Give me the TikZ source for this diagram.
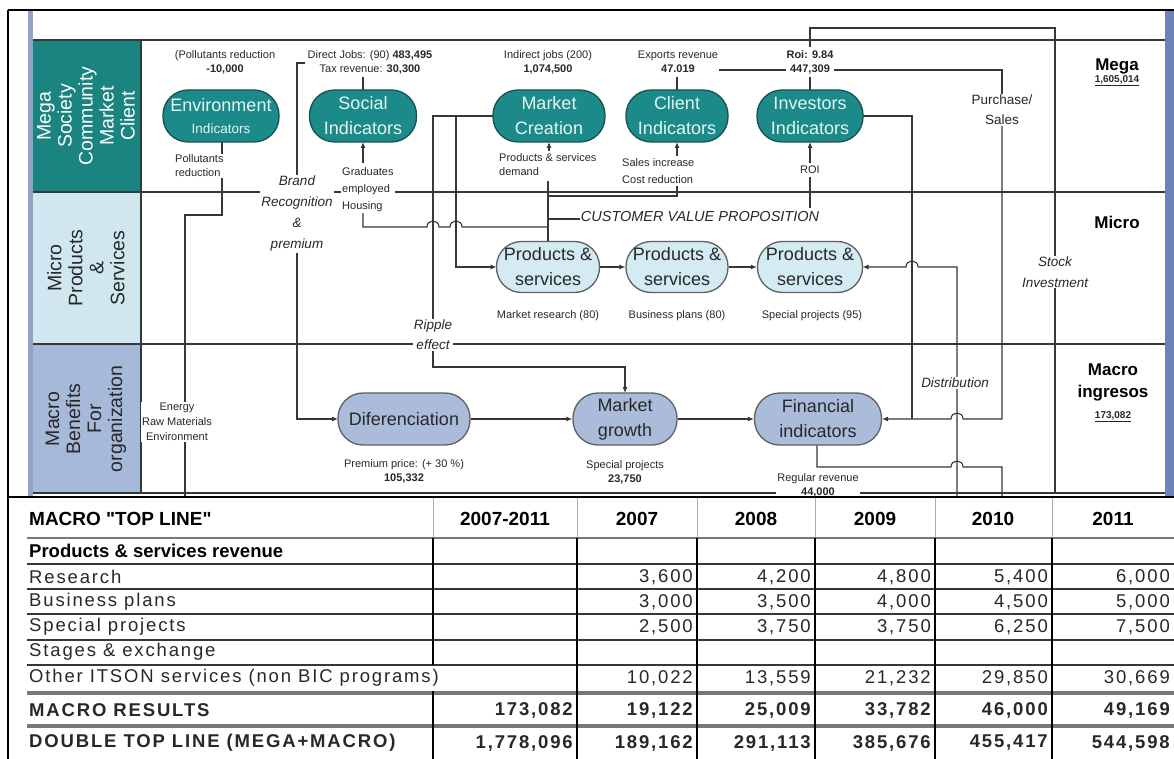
\documentclass[tikz,border=0pt]{standalone}
\usepackage{fontspec}
\setmainfont{Liberation Sans}
\newfontfamily\tabfont[LetterSpace=10]{Liberation Sans}
\newfontfamily\qfont{Liberation Sans}
\usetikzlibrary{arrows.meta}
\newcommand\fsz[2]{\fontsize{#1}{#2}\selectfont}
\definecolor{tealF}{RGB}{28,138,136}
\definecolor{tealD}{RGB}{22,82,82}
\definecolor{tealT}{RGB}{228,246,246}
\definecolor{megaL}{RGB}{26,132,128}
\definecolor{microF}{RGB}{212,235,243}
\definecolor{microL}{RGB}{208,231,240}
\definecolor{macroF}{RGB}{170,188,218}
\definecolor{macroL}{RGB}{166,185,216}
\definecolor{edgeB}{RGB}{110,132,184}
\definecolor{ln}{RGB}{55,55,55}
\definecolor{txt}{RGB}{40,40,40}
\definecolor{tgray}{RGB}{120,120,120}
\tikzset{
  conn/.style={draw=ln, line width=1.1pt},
  arr/.style={conn, -{Latex[length=6pt,width=5pt]}},
  pill/.style={draw=#1, line width=1.3pt, rounded corners=25pt, minimum height=52pt, inner sep=0pt, align=center},
  megan/.style={pill=tealD, fill=tealF, text=tealT, font=\fsz{18}{25}},
  micron/.style={pill=ln!80, fill=microF, text=txt, font=\fsz{18}{25}, minimum height=51pt},
  macron/.style={pill=ln!80, fill=macroF, text=txt, font=\fsz{18}{25}},
  lbl/.style={font=\fsz{11}{14}, text=txt, inner sep=1pt, align=center, fill=white},
  ilbl/.style={font=\fsz{13.5}{21}\itshape, text=txt, inner sep=1pt, align=center, fill=white},
  lane/.style={line width=1.3pt, draw=ln},
  lanelbl/.style={rotate=90, align=center, font=\fsz{19.5}{21}, inner sep=0pt},
  rlbl/.style={font=\fsz{17}{22}\bfseries, text=black, align=center, inner sep=1pt},
  rnum/.style={font=\fsz{10}{12}\bfseries, text=txt, inner sep=1pt},
  tl/.style={anchor=west, font=\fsz{18.5}{20}\tabfont\rowfont, text=txt, inner sep=0pt},
  tn/.style={anchor=east, font=\fsz{18.5}{20}\tabfont\rowfont, text=txt, inner sep=0pt},
  th/.style={font=\fsz{19}{22}\qfont\bfseries, text=black, inner sep=0pt},
  hl/.style={draw=tgray, line width=2.2pt},
  hlb/.style={draw=tgray, line width=4pt},
  vl/.style={draw=black, line width=1.2pt},
}
\def\rowfont{}
\newcommand\trow[9]{%
  \node[tl] (#1l) at (29,#2) {#3};
  \node[tn] (#1a) at (573,#2) {#4};
  \node[tn] (#1b) at (693,#2) {#5};
  \node[tn] (#1c) at (811,#2) {#6};
  \node[tn] (#1d) at (931,#2) {#7};
  \node[tn] (#1e) at (1048,#2) {#8};
  \node[tn] (#1f) at (1170,#2) {#9};
}
\begin{document}
\begin{tikzpicture}[x=1pt,y=-1pt]
\useasboundingbox (0,0) rectangle (1174,759);
\fill[white] (0,0) rectangle (1174,759);
% side bars
\fill[edgeB!75] (28,10) rectangle (33,497);
\fill[edgeB] (1165,10) rectangle (1174,497);
% lane label backgrounds
\fill[megaL] (33,40) rectangle (141,192);
\fill[microL] (33,192) rectangle (141,344);
\fill[macroL] (33,344) rectangle (141,493);
% lane lines
\draw[lane] (33,40) -- (1165,40);
\draw[lane] (33,192) -- (1165,192);
\draw[lane] (33,344) -- (1165,344);
\draw[lane] (33,493) -- (1165,493);
\draw[lane] (141,40) -- (141,493);
% frame
\draw[black, line width=1.6pt] (8,10) -- (1174,10);
\draw[black, line width=1.6pt] (8,10) -- (8,759);

% lane labels
\node[lanelbl, text=white] (lmega) at (86,116) {Mega\\Society\\Community\\Market\\Client};
\node[lanelbl, text=txt] (lmicro) at (86,268) {Micro\\Products\\\&\\Services};
\node[lanelbl, text=txt] (lmacro) at (86,419) {Macro\\Benefits\\For\\organization};
% right labels
\node[rlbl] (rmega) at (1117,66) {Mega};
\node[rnum] (rmegan) at (1117,81) {\underline{1,605,014}};
\node[rlbl] (rmicro) at (1117,222) {Micro};
\node[rlbl] (rmacro) at (1113,382) {Macro\\ingresos};
\node[rnum] (rmacron) at (1113,417) {\underline{173,082}};

% ---------- connectors ----------
\coordinate (envT) at (222,215);
\coordinate (envB) at (185,497);
% Environment down to bottom
\draw[conn] (222,142) -- (envT) -- (185,215) -- (envB);
% Brand recognition bracket to Diferenciation
\draw[arr] (305,63) -- (297,63) -- (297,419) -- (338,419);
% Social
\draw[conn] (363,77) -- (363,90);
\draw[arr] (363,163) -- (363,142);
% Housing line with jumps
\draw[conn] (363,212) -- (363,227) -- (427,227) .. controls (427,219) and (439,219) .. (439,227)
  -- (450,227) .. controls (450,219) and (462,219) .. (462,227) -- (548,227);
% Market creation
\draw[arr] (549,151) -- (549,142);
\draw[conn] (548,181) -- (548,241.5);
% Client
\draw[conn] (677,77) -- (677,90);
\draw[arr] (677,156) -- (677,142);
\draw[conn] (677,186) -- (677,196) -- (548,196);
% Customer value proposition
\draw[conn] (548,219) -- (581,219);
\draw[conn] (810,177) -- (810,208);
% Investors
\draw[arr] (810,163) -- (810,142);
\draw[conn] (810,90) -- (810,77);
\draw[conn] (810,47) -- (810,28) -- (1055,28) -- (1055,259);
\draw[conn] (1055,286) -- (1055,493);
% exports / purchase
\draw[conn] (719,70) -- (787,70);
\draw[conn] (834,70) -- (1002,70) -- (1002,96);
\draw[arr] (1002,124) -- (1002,419) -- (963,419) .. controls (963,411) and (951,411) .. (951,419) -- (882,419);
% investors right
\draw[conn] (863,116) -- (912,116) -- (912,419);
% distribution feedback to P&S3
\draw[arr] (957,497) -- (957,267) -- (918,267) .. controls (918,259) and (906,259) .. (906,267) -- (862.5,267);
% financial bottom
\draw[conn] (817,445) -- (817,467) -- (951,467) .. controls (951,459) and (963,459) .. (963,467) -- (1002,467) -- (1002,497);
% market creation left
\draw[conn] (493,116) -- (433,116) -- (433,330);
\draw[arr] (433,350) -- (433,367) -- (625,367) -- (625,393);
\draw[arr] (456,116) -- (456,267) -- (496.5,267);

% main nodes
\node[megan, minimum width=116pt] (env) at (221,116) {Environment\\[-3pt]{\fsz{13.5}{16}Indicators}};
\node[megan, minimum width=107pt] (soc) at (363,116) {Social\\Indicators};
\node[megan, minimum width=112pt] (mc) at (549,116) {Market\\Creation};
\node[megan, minimum width=102pt] (cli) at (677,116) {Client\\Indicators};
\node[megan, minimum width=106pt] (inv) at (810,116) {Investors\\Indicators};
\node[micron, minimum width=103pt] (ps1) at (548,267) {Products \&\\services};
\node[micron, minimum width=102pt] (ps2) at (677,267) {Products \&\\services};
\node[micron, minimum width=105pt] (ps3) at (810,267) {Products \&\\services};
\node[macron, minimum width=132pt] (dif) at (404,419) {Diferenciation};
\node[macron, minimum width=104pt] (mg) at (625,419) {Market\\growth};
\node[macron, minimum width=127pt] (fin) at (818,419) {Financial\\indicators};
\draw[arr] (ps1) -- (ps2);
\draw[arr] (ps2) -- (ps3);
\draw[arr] (dif) -- (mg);
\draw[arr] (mg) -- (fin);

% value labels (top)
\node[lbl] (pol) at (225,62) {(Pollutants reduction\\\textbf{-10,000}};
\node[lbl] (dj) at (370,62) {Direct Jobs: (90) \textbf{483,495}\\Tax revenue: \textbf{30,300}};
\node[lbl] (ij) at (548,62) {Indirect jobs (200)\\\textbf{1,074,500}};
\node[lbl] (ex) at (678,62) {Exports revenue\\\textbf{47.019}};
\node[lbl] (roi) at (810,62) {\textbf{Roi: 9.84}\\\textbf{447,309}};
% descriptors
\node[lbl, align=left, anchor=west] (polr) at (174,166) {Pollutants\\reduction};
\node[lbl, align=left, anchor=west, font=\fsz{11}{17}] (grad) at (341,190) {Graduates\\employed\\Housing};
\node[lbl, align=left, anchor=west] (psd) at (498,165) {Products \& services\\demand};
\node[lbl, align=left, anchor=west, font=\fsz{11}{17}] (sal) at (621,171) {Sales increase\\Cost reduction};
\node[lbl] (roil) at (810,170) {ROI};
\node[ilbl] (brand) at (297,214) {Brand\\Recognition\\\&\\premium};
\node[lbl, font=\fsz{13.5}{20}] (purch) at (1002,110) {Purchase/\\Sales};
\node[ilbl, font=\fsz{14.5}{17}\itshape] (cvp) at (700,217) {CUSTOMER VALUE PROPOSITION};
\node[lbl] (mr) at (548,316) {Market research (80)};
\node[lbl] (bp) at (677,316) {Business plans (80)};
\node[lbl] (sp) at (812,316) {Special projects (95)};
\node[ilbl] (stock) at (1055,272) {Stock\\Investment};
\node[ilbl, font=\fsz{13.5}{20}\itshape] (ripple) at (433,335) {Ripple\\effect};
\node[lbl, font=\fsz{11}{15}] (energy) at (177,422) {Energy\\Raw Materials\\Environment};
\node[lbl] (prem) at (404,471) {Premium price: (+ 30 \%)\\\textbf{105,332}};
\node[lbl] (spj) at (625,472) {Special projects\\\textbf{23,750}};
\node[lbl] (reg) at (818,485) {Regular revenue\\\textbf{44,000}};
\node[ilbl] (dist) at (955,383) {Distribution};

% ---------- table ----------
\draw[hl] (27,538) -- (1174,538);
\foreach \yy in {564,589,614,640,665} {\draw[draw=ln, line width=1.8pt] (27,\yy) -- (1174,\yy);}
\draw[hlb] (27,693) -- (1174,693);
\draw[hlb] (27,726) -- (1174,726);
\foreach \xx in {433,577,697,815,935,1052} {\draw[draw=tgray!60, line width=1pt] (\xx,497) -- (\xx,537);}
\foreach \xx in {577,697,815,935,1052} {\draw[vl] (\xx,538) -- (\xx,759);}
\draw[vl] (433,538) -- (433,665);
\draw[vl] (433,691) -- (433,759);
\draw[black, line width=2pt] (8,497) -- (1174,497);
% header
\node[th, anchor=west] (h0) at (29,519) {MACRO "TOP LINE"};
\node[th] (h1) at (505,519) {2007-2011};
\node[th] (h2) at (637,519) {2007};
\node[th] (h3) at (756,519) {2008};
\node[th] (h4) at (875,519) {2009};
\node[th] (h5) at (993,519) {2010};
\node[th] (h6) at (1113,519) {2011};
\node[tl, font=\fsz{18.5}{20}\qfont\bfseries, text=black] (rps) at (29,551) {Products \& services revenue};
\trow{rr}{577}{Research}{}{3,600}{4,200}{4,800}{5,400}{6,000}
\trow{rb}{602}{Business plans}{}{3,000}{3,500}{4,000}{4,500}{5,000}
\trow{rs}{627}{Special projects}{}{2,500}{3,750}{3,750}{6,250}{7,500}
\node[tl] (rst) at (29,652) {Stages \& exchange};
\trow{ro}{678}{Other ITSON services (non BIC programs)}{}{10,022}{13,559}{21,232}{29,850}{30,669}
\def\rowfont{\bfseries\color{black}}
\trow{rm}{710}{MACRO RESULTS}{173,082}{19,122}{25,009}{33,782}{46,000}{49,169}
\trow{rd}{743}{DOUBLE TOP LINE (MEGA+MACRO)}{1,778,096}{189,162}{291,113}{385,676}{455,417}{544,598}
\end{tikzpicture}
\end{document}
